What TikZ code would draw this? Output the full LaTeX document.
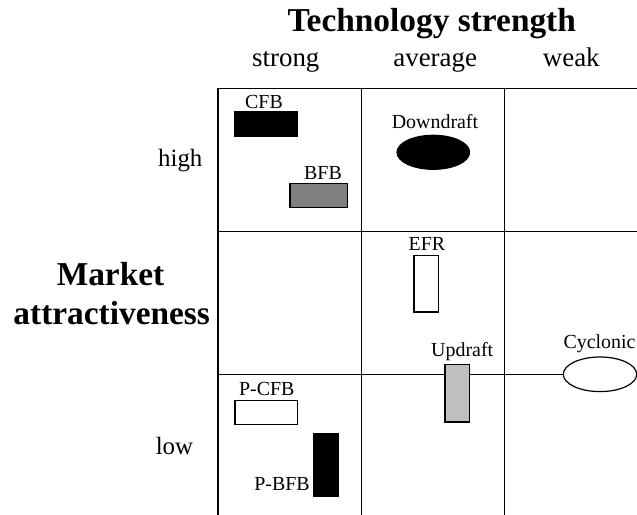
\documentclass[tikz,border=0pt]{standalone}
\usepackage{fontspec}
\setmainfont{Liberation Serif}
\usetikzlibrary{shapes.geometric}
\begin{document}
\begin{tikzpicture}[x=1bp,y=-1bp,
  grid/.style={line width=1.2bp,black},
  box/.style={draw=black,line width=1.2bp},
  lbl/.style={anchor=base,inner sep=0pt,font=\fontsize{20}{24}\selectfont},
  axis/.style={anchor=base,inner sep=0pt,font=\fontsize{27}{32}\selectfont},
  head/.style={anchor=base,inner sep=0pt,font=\bfseries\fontsize{33.5}{38.6}\selectfont}]
\useasboundingbox (0,0) rectangle (637,515);

% matrix grid (open at the right and at the bottom)
\draw[grid] (637,88.3) -- (218,88.3) -- (218,515);
\draw[grid] (361.7,88.3) -- (361.7,515);
\draw[grid] (504.3,88.3) -- (504.3,515);
\draw[grid] (218,231.7) -- (637,231.7);
\draw[grid] (218,374.3) -- (637,374.3);

% axis titles
\node[head] (ttech) at (431.7,31.7) {Technology strength};
\node[head] (tmark1) at (110.5,285.7) {Market};
\node[head] (tmark2) at (111.7,324.3) {attractiveness};

% column and row labels
\node[axis] (cstrong) at (285.8,66.5) {strong};
\node[axis] (caverage) at (435.2,66.5) {average};
\node[axis] (cweak) at (571.3,66.5) {weak};
\node[axis,font=\fontsize{25}{30}\selectfont] (rhigh) at (180.3,166.7) {high};
\node[axis,font=\fontsize{25}{30}\selectfont] (rlow) at (174.5,454.6) {low};

% technologies
\draw[box,fill=black] (235,111.7) rectangle (297.7,136);
\node[lbl] (lcfb) at (264,109) {CFB};

\draw[box,fill=black!50] (290,183.7) rectangle (347.7,207.7);
\node[lbl] (lbfb) at (323,180) {BFB};

\node[ellipse,draw=black,fill=black,line width=1.2bp,minimum width=72.6bp,minimum height=34bp,inner sep=0pt] (down) at (433.3,152.3) {};
\node[lbl] (ldown) at (435,128.3) {Downdraft};

\draw[box,fill=white] (414,255.3) rectangle (438.3,312);
\node[lbl] (lefr) at (427,250.7) {EFR};

\draw[box,fill=black!25] (445,364.7) rectangle (469.3,422);
\node[lbl] (lup) at (462.2,356.7) {Updraft};

\node[ellipse,draw=black,fill=white,line width=1.2bp,minimum width=73.4bp,minimum height=34.6bp,inner sep=0pt] (cyc) at (600,374.3) {};
\node[lbl] (lcyc) at (599.5,348.3) {Cyclonic};

\draw[box,fill=white] (235,400.7) rectangle (297.7,424.3);
\node[lbl] (lpcfb) at (266.8,395) {P-CFB};

\draw[box,fill=black] (313.3,433.3) rectangle (338.3,496.7);
\node[lbl] (lpbfb) at (282,490) {P-BFB};
\end{tikzpicture}
\end{document}
